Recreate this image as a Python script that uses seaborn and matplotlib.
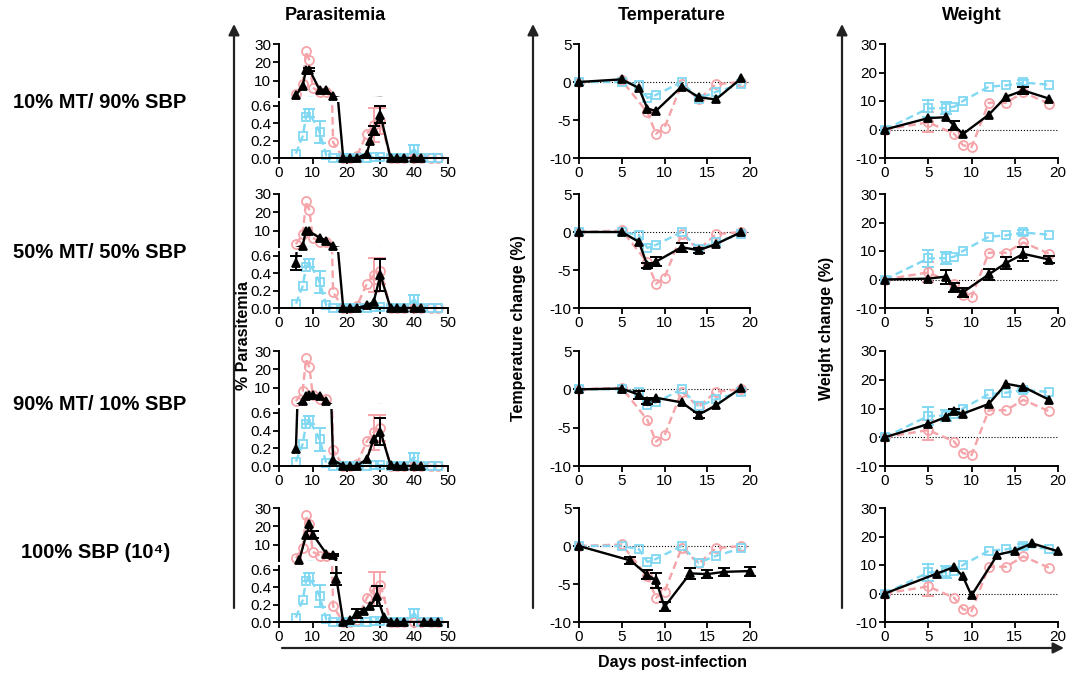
import numpy as np
import matplotlib
matplotlib.use('Agg')
import matplotlib.pyplot as plt
import seaborn as sns

sns.set_style('ticks')
plt.rcParams['font.family'] = ['Liberation Sans', 'DejaVu Sans']
plt.rcParams['axes.unicode_minus'] = False
plt.rcParams['text.color'] = 'black'
plt.rcParams['axes.labelcolor'] = 'black'

PINK = '#f5a4a9'
BLUE = '#80d8f2'
BLACK = '#000000'

groups = ['10% MT/ 90% SBP', '50% MT/ 50% SBP', '90% MT/ 10% SBP', '100% SBP (10⁴)']

# ---- parasitemia: controls (same in every row)
para_pink_x = [5, 7, 8, 9, 10, 12, 14, 16, 19, 21, 23, 26, 28, 30, 33, 35, 37, 40, 42, 45, 47]
para_pink_y = [2.5, 8, 26, 21, 6, 4, 3.5, 0.18, 0, 0, 0.02, 0.28, 0.38, 0.43, 0, 0, 0, 0, 0, 0, 0]
para_pink_e = [0, 0, 0, 0, 0, 0, 0, 0, 0, 0, 0, 0, 0.2, 0.15, 0, 0, 0, 0, 0, 0, 0]

para_blue_x = [5, 7, 8, 9, 12, 14, 16, 19, 21, 23, 26, 28, 30, 33, 35, 37, 40, 42, 45, 47]
para_blue_y = [0.05, 0.25, 0.47, 0.52, 0.30, 0.03, 0, 0, 0, 0, 0, 0.01, 0.01, 0, 0, 0, 0.10, 0, 0, 0]
para_blue_e = [0, 0, 0, 0.05, 0.13, 0, 0, 0, 0, 0, 0, 0, 0, 0, 0, 0, 0.05, 0, 0, 0]

# ---- parasitemia: mixed groups (black)
para_blk_x = [
    [5, 7, 8, 9, 12, 14, 16, 19, 21, 23, 26, 27, 28, 30, 33, 35, 37, 40, 42],
    [5, 7, 8, 9, 12, 14, 16, 19, 21, 23, 26, 28, 30, 33, 35, 37, 40, 42],
    [5, 7, 8, 9, 10, 12, 14, 16, 19, 21, 23, 26, 28, 30, 33, 35, 37, 40, 42],
    [6, 8, 9, 10, 14, 16, 17, 19, 21, 23, 25, 27, 29, 31, 33, 35, 37, 43, 45, 47],
]
para_blk_y = [
    [2, 7, 16, 16, 5, 5, 1.3, 0, 0, 0, 0.05, 0.2, 0.32, 0.5, 0, 0, 0, 0, 0],
    [0.52, 1.8, 10, 9.5, 6, 4.5, 1.3, 0, 0, 0, 0.03, 0.07, 0.38, 0, 0, 0, 0, 0],
    [0.19, 2.5, 5.5, 5.8, 5.8, 5.5, 2.5, 0.07, 0, 0, 0, 0.08, 0.3, 0.39, 0.01, 0, 0, 0, 0],
    [1.5, 15, 21, 15.5, 5, 4.5, 0.5, 0, 0.02, 0.1, 0.13, 0.19, 0.3, 0.06, 0, 0, 0, 0, 0, 0],
]
para_blk_e = [
    [0, 0, 0, 1, 0, 0, 0, 0, 0, 0, 0, 0, 0.05, 0.1, 0, 0, 0, 0, 0],
    [0.08, 0, 0, 0, 0, 0, 0, 0, 0, 0, 0, 0, 0.18, 0, 0, 0, 0, 0],
    [0, 0, 0, 0, 0, 0, 0, 0, 0, 0, 0, 0, 0, 0.15, 0, 0, 0, 0, 0],
    [0, 0, 0, 2, 0, 0.5, 0.07, 0, 0, 0.05, 0, 0, 0.11, 0, 0, 0, 0, 0, 0, 0],
]

# ---- temperature change (%)
temp_pink_x = [0, 5, 8, 9, 10, 12, 14, 16, 19]
temp_pink_y = [0, 0.2, -4, -6.8, -6, -0.3, -2.3, -0.3, 0]
temp_blue_x = [0, 5, 7, 8, 9, 12, 14, 16, 19]
temp_blue_y = [0, 0, -0.4, -2.1, -1.7, 0, -2.2, -1.3, -0.3]
temp_blk_x = [
    [0, 5, 7, 8, 9, 12, 14, 16, 19],
    [0, 5, 7, 8, 9, 12, 14, 16, 19],
    [0, 5, 7, 8, 9, 12, 14, 16, 19],
    [0, 6, 8, 9, 10, 13, 15, 17, 20],
]
temp_blk_y = [
    [0, 0.35, -0.8, -3.5, -3.8, -0.6, -2, -2.3, 0.5],
    [0, 0, -1.3, -4.4, -3.9, -2, -2.4, -1.6, 0],
    [0, 0.1, -0.7, -1.5, -1.1, -1.7, -3.3, -2.1, 0.2],
    [0, -1.9, -3.8, -4.5, -8, -3.6, -3.7, -3.4, -3.3],
]
temp_blk_e = [
    [0, 0, 0, 0, 0, 0, 0, 0, 0],
    [0, 0, 0, 0.3, 0.6, 0.6, 0.3, 0, 0],
    [0, 0, 0.5, 0.4, 0, 0, 0.4, 0, 0],
    [0, 0.5, 0.6, 1, 0.6, 0.7, 0.5, 0.5, 0.6],
]

# ---- weight change (%)
wt_pink_x = [0, 5, 8, 9, 10, 12, 14, 16, 19]
wt_pink_y = [0, 2.5, -1.5, -5.5, -6.2, 9.4, 9.4, 13, 9]
wt_pink_e = [0, 3.5, 0, 0, 0, 0, 0, 0, 0]
wt_blue_x = [0, 5, 7, 8, 9, 12, 14, 16, 19]
wt_blue_y = [0, 7.4, 7.5, 8, 10, 15, 15.5, 16.5, 15.7]
wt_blue_e = [0, 3, 2, 0, 0, 0, 0, 0.8, 0]
wt_blk_x = [
    [0, 5, 7, 8, 9, 12, 14, 16, 19],
    [0, 5, 7, 8, 9, 12, 14, 16, 19],
    [0, 5, 7, 8, 9, 12, 14, 16, 19],
    [0, 6, 8, 9, 10, 13, 15, 17, 20],
]
wt_blk_y = [
    [0, 4, 4.3, 1.4, -1.6, 5.2, 11.5, 13.7, 10.8],
    [0, 0.3, 1, -2.8, -4.5, 1.8, 5.8, 9, 7],
    [0, 4.6, 7, 9, 8.2, 11.6, 18.6, 17.5, 13],
    [0, 7, 9.3, 6, -0.7, 13.6, 15, 17.6, 14.8],
]
wt_blk_e = [
    [0, 0, 0, 1.5, 0, 0, 0, 1.3, 0],
    [0, 0, 2.5, 1.5, 1.5, 2, 2, 2.5, 1.2],
    [0, 0, 0, 1, 0, 0, 0, 0, 0],
    [0, 0, 0, 0, 0, 0, 0, 0, 0],
]

W, H = 1068, 674
fig = plt.figure(figsize=(W / 100, H / 100), dpi=100)


def px_axes(x0, x1, y0, y1):
    # pixel box (top y0, bottom y1) -> figure axes
    return fig.add_axes([x0 / W, 1 - y1 / H, (x1 - x0) / W, (y1 - y0) / H])


def style_ax(ax):
    sns.despine(ax=ax)
    for s in ['left', 'bottom']:
        ax.spines[s].set_linewidth(1.4)
        ax.spines[s].set_color('black')
    ax.tick_params(direction='out', length=4, width=1.3, labelsize=11, pad=1.5, colors='black')
    ax.set_xlabel('')
    ax.set_ylabel('')


SERIES = {
    'pink': dict(color=PINK, marker='o', mfc='none', ls=(0, (3.2, 1.8)), ms=6.5),
    'blue': dict(color=BLUE, marker='s', mfc='none', ls=(0, (3.2, 1.8)), ms=6),
    'black': dict(color=BLACK, marker='^', mfc=BLACK, ls='-', ms=6),
}


def draw(ax, x, y, e, kind, keep=None, line=True):
    st = SERIES[kind]
    x = np.asarray(x, float)
    y = np.asarray(y, float)
    e = np.asarray(e, float) if e is not None else np.zeros_like(y)
    z = 3 if kind == 'black' else 2
    if line:
        sns.lineplot(x=x, y=y, ax=ax, color=st['color'], lw=1.7, linestyle=st['ls'],
                     errorbar=None, sort=False, zorder=z)
    m = np.ones_like(y, bool) if keep is None else keep(y)
    if m.any():
        sns.lineplot(x=x[m], y=y[m], ax=ax, color=st['color'], linestyle='none',
                     marker=st['marker'], markersize=st['ms'], markerfacecolor=st['mfc'],
                     markeredgecolor=st['color'], markeredgewidth=1.3,
                     errorbar=None, sort=False, clip_on=False, zorder=z + 0.5)
    me = m & (e > 0)
    if me.any():
        ax.errorbar(x[me], y[me], yerr=e[me], fmt='none', ecolor=st['color'],
                    elinewidth=1.4, capsize=4, capthick=1.4, clip_on=False, zorder=z)


row_top = [44, 194, 351, 508]
row_bot = [158, 308, 466, 622]

for r in range(4):
    yt, yb = row_top[r], row_bot[r]

    # Parasitemia (broken y axis)
    ax_hi = px_axes(279, 448, yt, yt + 53)
    ax_lo = px_axes(279, 448, yt + 58, yb)
    for ax, keep in [(ax_hi, lambda v: v >= 1), (ax_lo, lambda v: v <= 0.65)]:
        draw(ax, para_pink_x, para_pink_y, para_pink_e, 'pink', keep)
        draw(ax, para_blue_x, para_blue_y, para_blue_e, 'blue', keep)
        draw(ax, para_blk_x[r], para_blk_y[r], para_blk_e[r], 'black', keep)
        ax.set_xlim(0, 50)
        style_ax(ax)
    ax_hi.set_ylim(1, 30)
    ax_hi.set_yticks([10, 20, 30])
    ax_hi.spines['bottom'].set_visible(False)
    ax_hi.tick_params(axis='x', bottom=False, labelbottom=False)
    ax_lo.set_ylim(0, 0.645)
    ax_lo.set_yticks([0, 0.2, 0.4, 0.6])
    ax_lo.set_yticklabels(['0.0', '0.2', '0.4', '0.6'])
    ax_lo.set_xticks(range(0, 51, 10))

    # Temperature
    ax = px_axes(579, 750, yt, yb)
    ax.axhline(0, color='black', lw=0.8, ls=':', zorder=1)
    draw(ax, temp_pink_x, temp_pink_y, None, 'pink')
    draw(ax, temp_blue_x, temp_blue_y, None, 'blue')
    draw(ax, temp_blk_x[r], temp_blk_y[r], temp_blk_e[r], 'black')
    ax.set_xlim(0, 20)
    ax.set_ylim(-10, 5)
    ax.set_xticks([0, 5, 10, 15, 20])
    ax.set_yticks([5, 0, -5, -10])
    style_ax(ax)

    # Weight
    ax = px_axes(885, 1058, yt, yb)
    ax.axhline(0, color='black', lw=0.8, ls=':', zorder=1)
    draw(ax, wt_pink_x, wt_pink_y, wt_pink_e, 'pink')
    draw(ax, wt_blue_x, wt_blue_y, wt_blue_e, 'blue')
    draw(ax, wt_blk_x[r], wt_blk_y[r], wt_blk_e[r], 'black')
    ax.set_xlim(0, 20)
    ax.set_ylim(-10, 30)
    ax.set_xticks([0, 5, 10, 15, 20])
    ax.set_yticks([30, 20, 10, 0, -10])
    style_ax(ax)

# overlay in pixel coordinates for labels and arrows
ov = fig.add_axes([0, 0, 1, 1], zorder=-1)
ov.set_xlim(0, W)
ov.set_ylim(H, 0)
ov.axis('off')

arrow = dict(arrowstyle='-|>', color='#222222', lw=1.6, mutation_scale=16,
             shrinkA=0, shrinkB=0)
for xa in [234, 533, 842]:
    ov.annotate('', xy=(xa, 24), xytext=(xa, 608), arrowprops=arrow)
ov.annotate('', xy=(1064, 648), xytext=(282, 648), arrowprops=arrow)

for txt, xc in [('Parasitemia', 335), ('Temperature', 672), ('Weight', 972)]:
    ov.text(xc, 15, txt, ha='center', va='center', fontsize=13, fontweight='bold')

for txt, yc, xc in zip(groups, [103, 252, 405, 553], [100, 100, 100, 96]):
    ov.text(xc, yc, txt, ha='center', va='center', fontsize=14.5, fontweight='bold')

ov.text(244, 335, '% Parasitemia', rotation=90, ha='center', va='center',
        fontsize=11.5, fontweight='bold')
ov.text(518, 328, 'Temperature change (%)', rotation=90, ha='center', va='center',
        fontsize=11.5, fontweight='bold')
ov.text(826, 328, 'Weight change (%)', rotation=90, ha='center', va='center',
        fontsize=11.5, fontweight='bold')
ov.text(672, 662, 'Days post-infection', ha='center', va='center',
        fontsize=11.5, fontweight='bold')

fig.savefig('out.png', dpi=100)
